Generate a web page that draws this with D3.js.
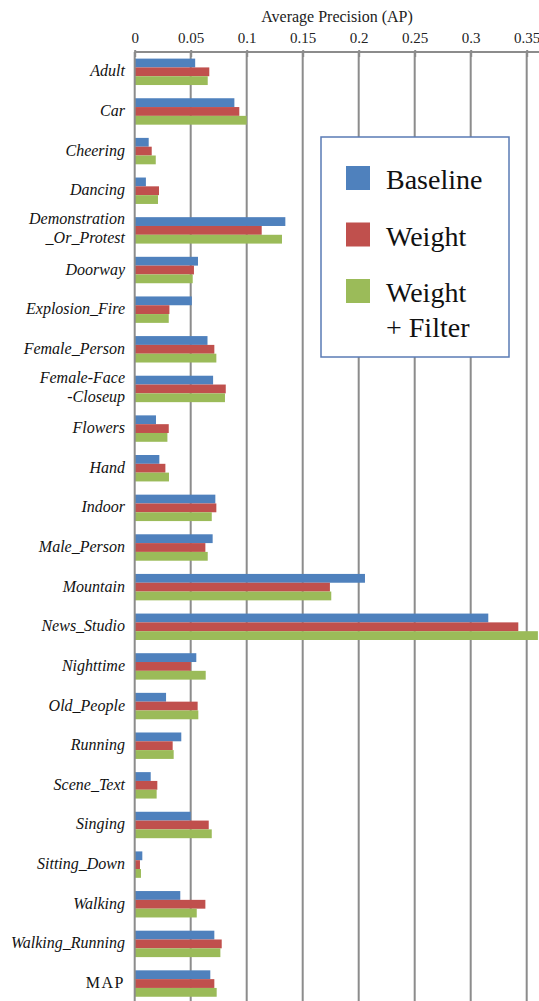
<!DOCTYPE html>
<html>
<head>
<meta charset="utf-8">
<script src="https://cdn.jsdelivr.net/npm/d3@7"></script>
<style>
  body { margin: 0; background: #fff; }
  svg { display: block; }
  text { font-family: "Liberation Serif", "Times New Roman", serif; }
</style>
</head>
<body>
<div class="chart"></div>
<script>
// category labels (multi-line labels split with \n)
var categories = ["Adult", "Car", "Cheering", "Dancing", "Demonstration\n_Or_Protest",
  "Doorway", "Explosion_Fire", "Female_Person", "Female-Face\n-Closeup", "Flowers",
  "Hand", "Indoor", "Male_Person", "Mountain", "News_Studio", "Nighttime",
  "Old_People", "Running", "Scene_Text", "Singing", "Sitting_Down", "Walking",
  "Walking_Running", "MAP"];

var baseline = [0.054, 0.089, 0.0125, 0.010, 0.1345, 0.0565, 0.051, 0.065, 0.070, 0.019,
  0.022, 0.072, 0.0696, 0.2056, 0.3157, 0.055, 0.028, 0.0416, 0.0143, 0.050, 0.0068, 0.0407,
  0.0711, 0.0675];
var weight = [0.0666, 0.0934, 0.0152, 0.0217, 0.1134, 0.0529, 0.031, 0.0711, 0.0813, 0.0304,
  0.0274, 0.0729, 0.0631, 0.1743, 0.3425, 0.050, 0.0562, 0.0339, 0.0202, 0.0661, 0.0047, 0.0631,
  0.0777, 0.0711];
var weightFilter = [0.0652, 0.100, 0.0188, 0.0208, 0.1315, 0.0518, 0.0304, 0.0729, 0.0806, 0.0292,
  0.0306, 0.0688, 0.0652, 0.1755, 0.360, 0.0634, 0.0568, 0.0348, 0.0196, 0.0688, 0.0056, 0.0554,
  0.0765, 0.0732];

var seriesNames = ["Baseline", "Weight", "Weight\n+ Filter"];
var seriesColors = ["#4f81bd", "#c0504d", "#9bbb59"];
var ticks = [0, 0.05, 0.1, 0.15, 0.2, 0.25, 0.3, 0.35];
var axisTitle = "Average Precision (AP)";

var width = 539, height = 1001;
var plotLeft = 134.7, plotTop = 52;

var svg = d3.select(".chart").append("svg")
  .attr("width", width)
  .attr("height", height);

var x = d3.scaleLinear().domain([0, 0.35]).range([plotLeft, 526.7]);
var y = d3.scaleBand().domain(categories)
  .range([plotTop, plotTop + 24 * 39.64])
  .paddingInner(1 / 3)
  .paddingOuter(1 / 6);
var inner = d3.scaleBand().domain([0, 1, 2]).range([0, y.bandwidth()]);

// vertical grid lines
svg.append("g").selectAll("line")
  .data(ticks.slice(1))
  .enter().append("line")
  .attr("x1", function(d) { return x(d); })
  .attr("x2", function(d) { return x(d); })
  .attr("y1", plotTop)
  .attr("y2", height)
  .attr("stroke", "#8c8c8c")
  .attr("stroke-width", 2);

// bars
var rows = categories.map(function(c, i) {
  return { cat: c, vals: [baseline[i], weight[i], weightFilter[i]] };
});

var group = svg.append("g").selectAll("g")
  .data(rows)
  .enter().append("g")
  .attr("transform", function(d) { return "translate(0," + y(d.cat) + ")"; });

group.selectAll("rect")
  .data(function(d) { return d.vals; })
  .enter().append("rect")
  .attr("x", x(0))
  .attr("y", function(d, i) { return inner(i); })
  .attr("width", function(d) { return x(d) - x(0); })
  .attr("height", inner.bandwidth())
  .attr("fill", function(d, i) { return seriesColors[i]; });

// category labels
group.each(function(d) {
  var lines = d.cat.split("\n");
  var g = d3.select(this);
  var mid = y.bandwidth() / 2;
  lines.forEach(function(l, k) {
    var yy = lines.length == 1 ? mid + 4.5 : mid - 6 + k * 19;
    g.append("text")
      .attr("x", 125)
      .attr("y", yy)
      .attr("text-anchor", "end")
      .attr("font-size", 16)
      .attr("font-style", d.cat == "MAP" ? "normal" : "italic")
      .attr("letter-spacing", d.cat == "MAP" ? 1.5 : 0)
      .attr("fill", "#111")
      .text(l);
  });
});

// left category axis
svg.append("line")
  .attr("x1", plotLeft).attr("x2", plotLeft)
  .attr("y1", plotTop).attr("y2", height)
  .attr("stroke", "#8c8c8c")
  .attr("stroke-width", 2);

// top value axis
var axis = svg.append("g")
  .attr("transform", "translate(0," + plotTop + ")")
  .call(d3.axisBottom(x).tickValues(ticks).tickSize(5).tickFormat(function(d) { return d; }));
axis.select(".domain").remove();
axis.selectAll("line").attr("stroke", "#8c8c8c").attr("stroke-width", 2).attr("y1", -2);
axis.selectAll("text")
  .attr("y", -9)
  .attr("dy", 0)
  .attr("font-size", 15)
  .attr("font-family", "Liberation Serif")
  .attr("fill", "#222");

svg.append("line")
  .attr("x1", plotLeft).attr("x2", width)
  .attr("y1", plotTop).attr("y2", plotTop)
  .attr("stroke", "#8c8c8c")
  .attr("stroke-width", 2);

svg.append("text")
  .attr("x", 337)
  .attr("y", 22)
  .attr("text-anchor", "middle")
  .attr("font-size", 16)
  .attr("fill", "#222")
  .text(axisTitle);

// legend
var legend = svg.append("g");
legend.append("rect")
  .attr("x", 321).attr("y", 137)
  .attr("width", 188).attr("height", 220)
  .attr("fill", "#fff")
  .attr("stroke", "#5a7bb5")
  .attr("stroke-width", 1.5);

var item = legend.selectAll("g")
  .data(seriesNames)
  .enter().append("g")
  .attr("transform", function(d, i) { return "translate(346," + (166 + i * 56.5) + ")"; });

item.append("rect")
  .attr("width", 24).attr("height", 24)
  .attr("fill", function(d, i) { return seriesColors[i]; });

item.each(function(d) {
  var g = d3.select(this);
  d.split("\n").forEach(function(l, k) {
    g.append("text")
      .attr("x", 40)
      .attr("y", 23 + k * 35)
      .attr("font-size", 28)
      .attr("fill", "#111")
      .text(l);
  });
});
</script>
</body>
</html>
